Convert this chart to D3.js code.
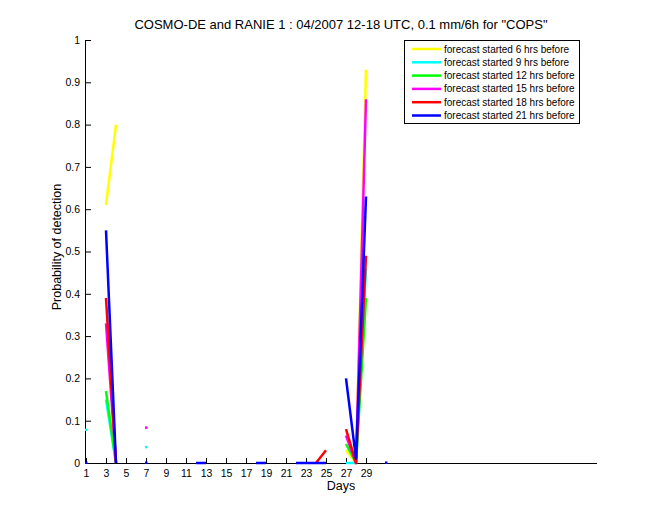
<!DOCTYPE html>
<html><head><meta charset="utf-8">
<script src="https://cdn.jsdelivr.net/npm/d3@7"></script>
<style>body{margin:0;background:#fff}svg{font-family:"Liberation Sans",Arial,sans-serif}</style>
</head><body><svg id="c" width="660" height="520"></svg>
<script>
const days = d3.range(1, 32);
const tickDays = [1,3,5,7,9,11,13,15,17,19,21,23,25,27,29];
const yTicks = [0,0.1,0.2,0.3,0.4,0.5,0.6,0.7,0.8,0.9,1];
const seriesNames = ["forecast started 6 hrs before","forecast started 9 hrs before","forecast started 12 hrs before","forecast started 15 hrs before","forecast started 18 hrs before","forecast started 21 hrs before"];
const seriesColors = ["#ffff00","#00ffff","#00ff00","#ff00ff","#ff0000","#0000ff"];
const N = null;
// values per day 1..31 (null = no data)
const yellow  = [N,N,0.61,0.80,N,N,N,N,N,N,N,N,N,N,N,N,N,N,N,N,N,N,N,N,N,N,0.03,0,0.93,N,N];
const cyan    = [0.078,N,0.15,0,N,N,0.037,N,N,N,N,N,N,N,N,N,N,N,N,N,N,N,N,N,N,N,0,0,0.46,N,N];
const green   = [N,N,0.17,0,N,N,N,N,N,N,N,N,N,N,N,N,N,N,N,N,N,N,N,N,N,N,0.045,0,0.39,N,N];
const magenta = [N,N,0.33,0,N,N,0.083,N,N,N,N,N,N,N,N,N,N,N,N,N,N,N,N,N,N,N,0.065,0,0.86,N,N];
const red     = [N,N,0.39,0,N,N,N,N,N,N,N,N,N,N,N,N,N,N,N,N,N,N,N,0,0.03,N,0.08,0,0.49,N,N];
const blue    = [0,N,0.55,0,N,N,0,N,N,N,N,0,0,N,N,N,N,0,0,N,N,0,0,0,0,N,0.20,0.01,0.63,N,0];
const series = [yellow,cyan,green,magenta,red,blue];

const svg = d3.select("#c");
const L=86,R=597,T=40,B=463;
const x = d3.scaleLinear().domain([1,52.1]).range([L,R]);
const y = d3.scaleLinear().domain([0,1]).range([B,T]);

// title
svg.append("text").attr("x",341).attr("y",29).attr("text-anchor","middle").attr("font-size","13px")
  .text('COSMO-DE and RANIE 1 : 04/2007 12-18 UTC, 0.1 mm/6h for "COPS"');

// axes
const xAxis = d3.axisBottom(x).tickValues(tickDays).tickSizeInner(-5).tickSizeOuter(0).tickPadding(7).tickFormat(d3.format("d"));
const gx = svg.append("g").attr("transform",`translate(0,${B})`).call(xAxis);
gx.select(".domain").attr("d",`M${L},0.5H${R}`).attr("stroke","#000");
gx.selectAll("text").attr("font-size","10.5px").attr("font-family","Liberation Sans, Arial, sans-serif");
const yAxis = d3.axisLeft(y).tickValues(yTicks).tickSizeInner(-5).tickSizeOuter(0).tickPadding(6).tickFormat(d=>d===0?"0":d===1?"1":d3.format(".1f")(d));
const gy = svg.append("g").attr("transform",`translate(${L},0)`).call(yAxis);
gy.select(".domain").attr("d",`M-0.5,${T}V${B}`).attr("stroke","#000");
gy.selectAll("text").attr("font-size","10.5px").attr("font-family","Liberation Sans, Arial, sans-serif");

svg.append("text").attr("x",341).attr("y",490).attr("text-anchor","middle").attr("font-size","12.5px").text("Days");
svg.append("text").attr("transform","translate(61,247) rotate(-90)").attr("text-anchor","middle").attr("font-size","12.5px").text("Probability of detection");

// data lines
const line = d3.line().defined(d=>d.v!==null).x(d=>x(d.d)).y(d=>y(d.v));
series.forEach((s,i)=>{
  const pts = days.map((d,j)=>({d:d,v:s[j]}));
  svg.append("path").attr("d",line(pts)).attr("fill","none").attr("stroke",seriesColors[i])
    .attr("stroke-width",2.5).attr("stroke-linejoin","round");
  // isolated points
  pts.forEach((p,j)=>{
    if(p.v===null) return;
    const prev = j>0 ? s[j-1] : null, next = j<s.length-1 ? s[j+1] : null;
    if(prev===null && next===null){
      svg.append("rect").attr("x",x(p.d)-1).attr("y",y(p.v)-1.5).attr("width",2.5).attr("height",2.5).attr("fill",seriesColors[i]);
    }
  });
});

// legend
const lg = svg.append("g");
lg.append("rect").attr("x",404.5).attr("y",40.5).attr("width",175).attr("height",83).attr("fill","#fff").attr("stroke","#000");
seriesNames.forEach((n,i)=>{
  const yy = 49 + i*13.3;
  lg.append("line").attr("x1",412).attr("x2",441).attr("y1",yy).attr("y2",yy).attr("stroke",seriesColors[i]).attr("stroke-width",2.5);
  lg.append("text").attr("x",444).attr("y",yy+3.5).attr("font-size","10px").text(n);
});
</script></body></html>
